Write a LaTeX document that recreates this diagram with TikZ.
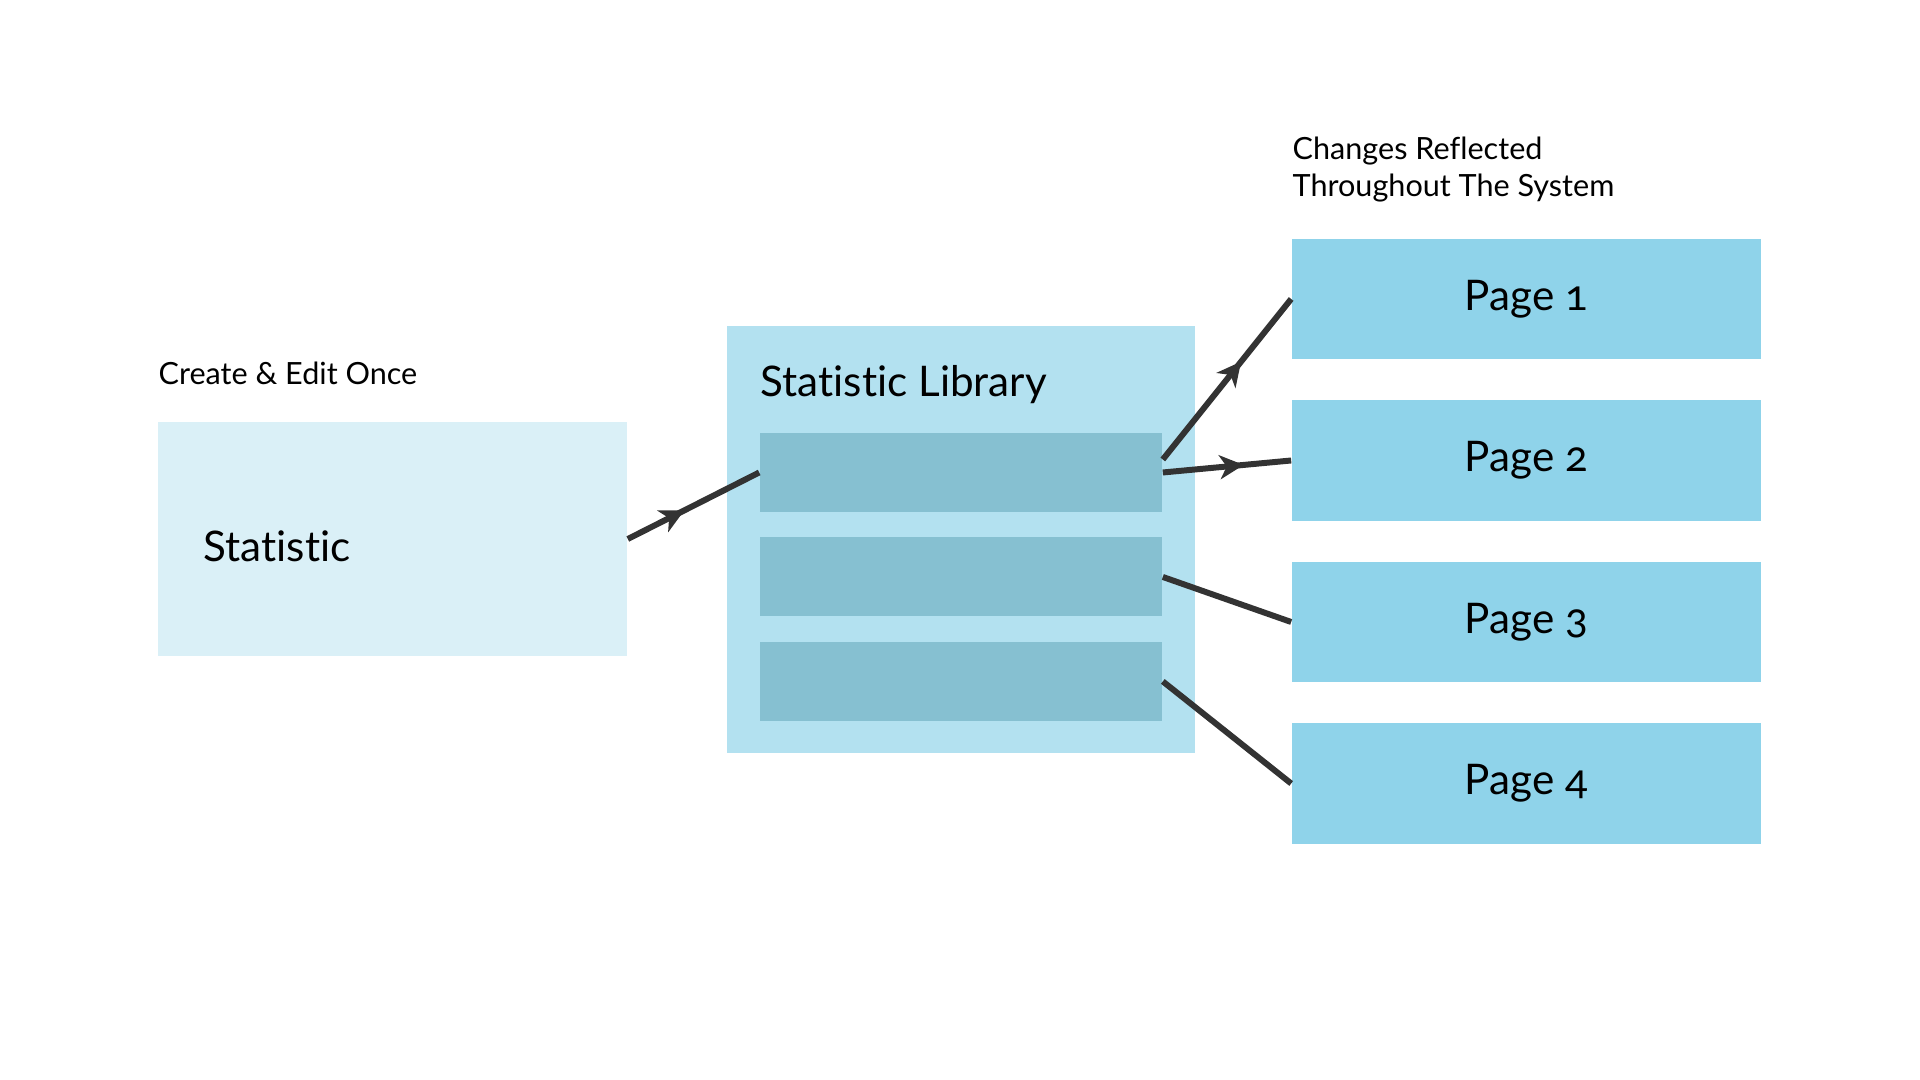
\documentclass[tikz,border=0pt]{standalone}
\usepackage{fontspec}
\setmainfont{Lato}[Numbers=OldStyle, Ligatures=NoCommon]
\usetikzlibrary{positioning}
\usetikzlibrary{arrows.meta,decorations.markings}
\definecolor{statfill}{HTML}{DAF0F7}
\definecolor{libfill}{HTML}{B3E1F0}
\definecolor{barfill}{HTML}{86C0D1}
\definecolor{pagefill}{HTML}{8FD3EA}
\definecolor{linkcol}{HTML}{333333}
\tikzset{link/.style = {draw, color=linkcol, line width=1.7pt},
  midarrow/.style = {postaction={decorate,decoration={markings,
      mark=at position #1 with {\arrow{Stealth[length=0.24cm,width=0.24cm,inset=0.07cm]}}}}}}

\begin{document}
\begin{tikzpicture}[x=0.01cm, y=-0.01cm, font=\fontsize{12}{14}\selectfont,
    page node/.style={rectangle,fill=pagefill,minimum width=4.69cm,minimum height=1.2cm,inner sep=0pt},
    bar node/.style={rectangle,fill=barfill,minimum width=4.02cm,minimum height=0.79cm,inner sep=0pt},
    note/.style={anchor=west,inner sep=0pt,align=left,font=\fontsize{8.7}{10.5}\selectfont}]
        \useasboundingbox (0,0) rectangle (1920,1080);
        % left: the single statistic
        \node[note] (create) at (158,373) {Create \& Edit Once};
        \node[fill=statfill, minimum width=4.69cm, minimum height=2.34cm, inner sep=0pt] (stat) at (392.5,539) {};
        \node[anchor=west, inner sep=0pt] (statlabel) at (203,546) {Statistic};
        % middle: the library
        \node[fill=libfill, minimum width=4.68cm, minimum height=4.27cm, inner sep=0pt] (lib) at (961,539.5) {};
        \node[anchor=west, inner sep=0pt] (libtitle) at (760,385) {Statistic Library};
        \node[bar node] (bar1) at (961,472.5) {};
        \node[bar node] (bar2) [below=0.24cm of bar1] {};
        \node[bar node] (bar3) [below=0.24cm of bar2] {};
        % right: the pages
        \node[note] (changes) at (1292,170) {Changes Reflected\\Throughout The System};
        \node[page node] (page1) at (1526.5,299) {Page 1};
        \node[page node] (page2) [below=0.4cm of page1] {Page 2};
        \node[page node] (page3) [below=0.4cm of page2] {Page 3};
        \node[page node] (page4) [below=0.4cm of page3] {Page 4};
        \draw[link, midarrow=0.43] (stat.east) -- (bar1.west);
        \draw[link, midarrow=0.61] ([yshift=0.13cm]bar1.east) -- (page1.west);
        \draw[link, midarrow=0.63] (bar1.east) -- (page2.west);
        \draw[link] (bar2.east) -- (page3.west);
        \draw[link] (bar3.east) -- (page4.west);
\end{tikzpicture}
\end{document}
